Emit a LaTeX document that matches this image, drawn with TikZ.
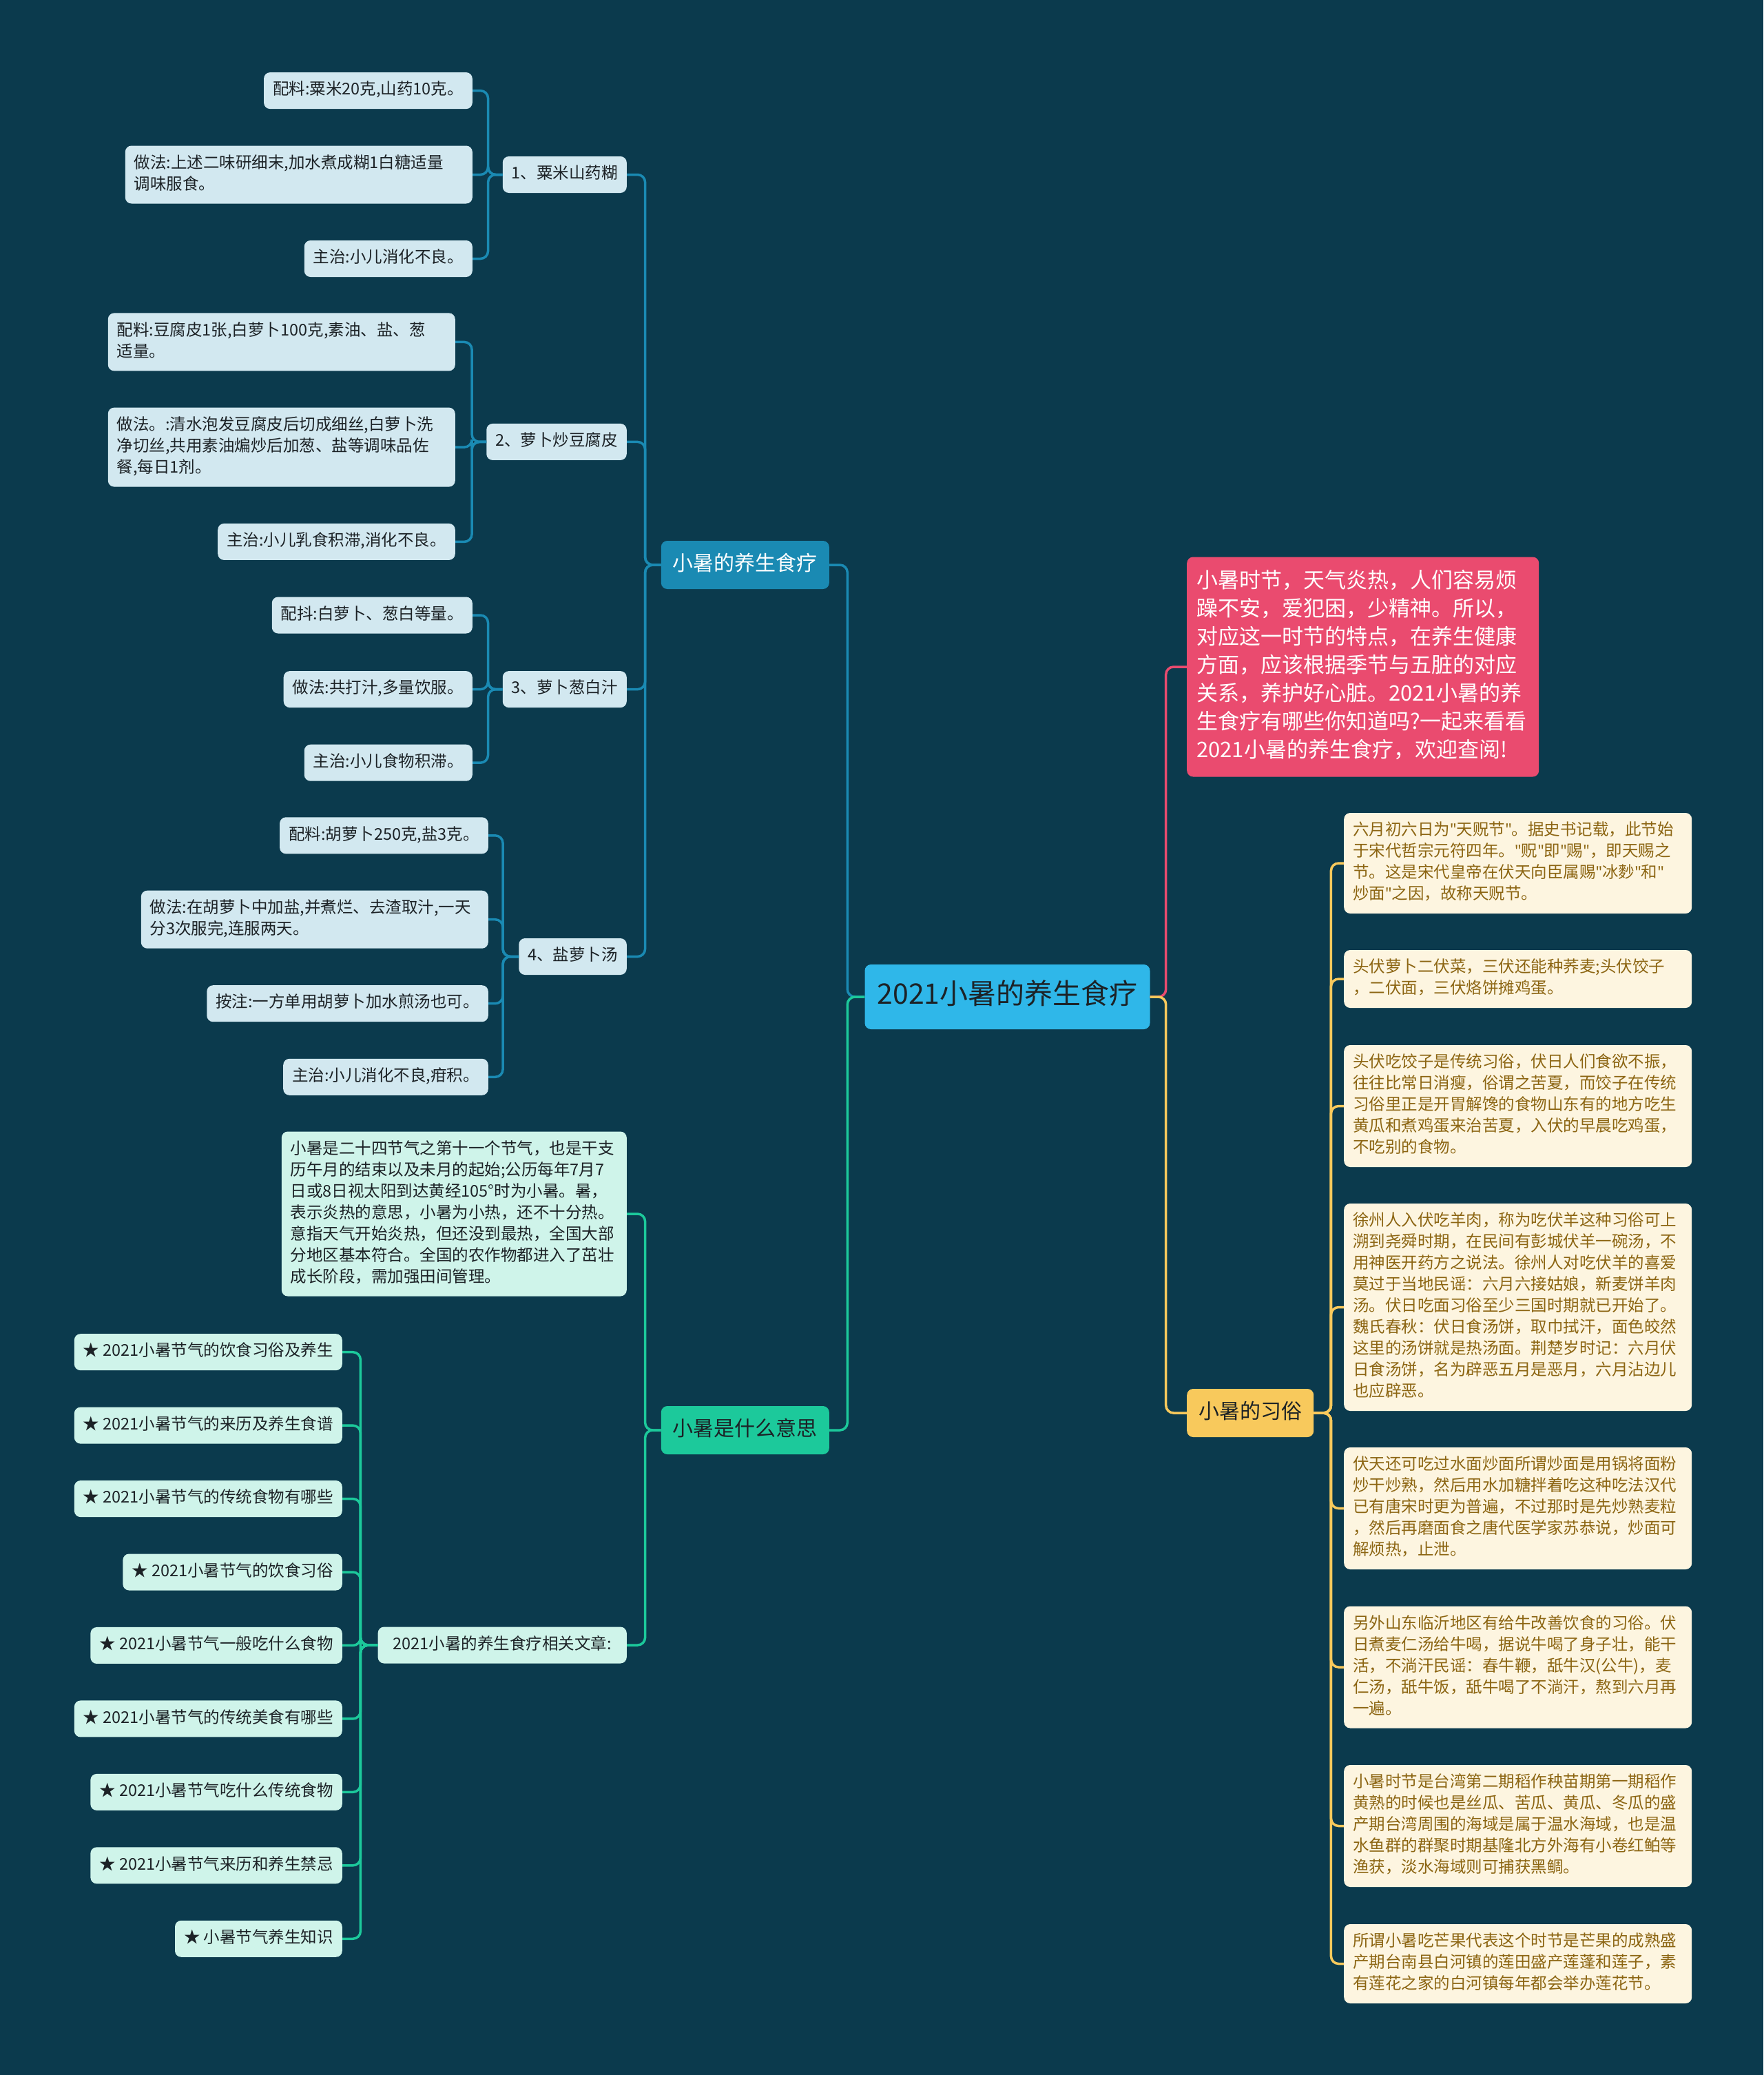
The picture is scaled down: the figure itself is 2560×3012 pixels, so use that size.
\documentclass[tikz,border=0pt]{standalone}
\usepackage{fontspec}
\setmainfont{Noto Sans CJK SC}
\newfontfamily\latinfont{Noto Sans}
\usepackage{xcolor}
\usepackage{tikz}

\definecolor{bgc}{HTML}{0B3A4D}
\definecolor{rootc}{HTML}{2FB7E9}
\definecolor{bluec}{HTML}{1A8AB3}
\definecolor{greenc}{HTML}{1CC99B}
\definecolor{redc}{HTML}{EA4B6F}
\definecolor{yelc}{HTML}{F8C95C}
\definecolor{bleafc}{HTML}{D2E8F0}
\definecolor{gleafc}{HTML}{CFF4EA}
\definecolor{yleafc}{HTML}{FDF5E0}
\definecolor{ytxt}{HTML}{8C6512}
\definecolor{darktxt}{HTML}{1C2226}

\newcommand{\leaffont}{\fontsize{23.5}{31}\selectfont}
\newcommand{\topicfont}{\fontsize{30}{40}\selectfont}
\newcommand{\rootfont}{\fontsize{41}{50}\selectfont}
\newcommand{\introfont}{\fontsize{31}{41}\selectfont}
\newcommand{\qm}{{\latinfont\char"22}} % narrow straight quote

\tikzset{
  leaf/.style={rounded corners=9pt, inner xsep=13pt, inner ysep=11pt, align=left,
    font=\leaffont, text=darktxt, execute at begin node=\strut, execute at end node=\strut},
  bleaf/.style={leaf, fill=bleafc, anchor=east},
  gleaf/.style={leaf, fill=gleafc, anchor=east},
  yleaf/.style={leaf, fill=yleafc, text=ytxt, text width=479pt, anchor=west},
  wide/.style={text width=478pt},
  topic/.style={rounded corners=9pt, inner xsep=17pt, inner ysep=15pt, font=\topicfont,
    text=darktxt, execute at begin node=\strut},
  bline/.style={draw=bluec, line width=3.5pt, rounded corners=11pt},
  gline/.style={draw=greenc, line width=3.5pt, rounded corners=11pt},
  rline/.style={draw=redc, line width=3.5pt, rounded corners=11pt},
  yline/.style={draw=yelc, line width=3.5pt, rounded corners=11pt}
}

\begin{document}
\begin{tikzpicture}[x=1pt,y=-1pt]
\useasboundingbox (0,0) rectangle (2560,3012);
\fill[bgc] (0,0) rectangle (2560,3012);

% centre and main topics
\node[topic, fill=rootc, font=\rootfont, inner xsep=18pt, inner ysep=22pt] (root) at (1462.5,1447) {2021小暑的养生食疗};
\node[topic, fill=bluec, text=white, anchor=east] (b1) at (1204,820) {小暑的养生食疗};
\node[topic, fill=greenc, anchor=east] (b2) at (1204,2076) {小暑是什么意思};
\node[topic, fill=redc, text=white, font=\introfont, align=left, text width=483pt, inner xsep=14pt,
  inner ysep=16pt, anchor=west, execute at end node=\strut] (intro) at (1723,968)
  {小暑时节，天气炎热，人们容易烦\\躁不安，爱犯困，少精神。所以，\\对应这一时节的特点，在养生健康\\方面，应该根据季节与五脏的对应\\关系，养护好心脏。2021小暑的养\\生食疗有哪些你知道吗?一起来看看\\2021小暑的养生食疗，欢迎查阅!};
\node[topic, fill=yelc, anchor=west] (xs) at (1723,2051) {小暑的习俗};

\draw[bline] (root.west) -- ++(-25,0) |- (b1.east);
\draw[gline] (root.west) -- ++(-25,0) |- (b2.east);
\draw[rline] (root.east) -- ++(23,0) |- (intro.west);
\draw[yline] (root.east) -- ++(23,0) |- (xs.west);

% recipes
\node[bleaf] (s1) at (910,253.5) {1、粟米山药糊};
\node[bleaf] (s2) at (910,641.4) {2、萝卜炒豆腐皮};
\node[bleaf] (s3) at (910,1000.6) {3、萝卜葱白汁};
\node[bleaf] (s4) at (910,1388.5) {4、盐萝卜汤};
\foreach \s in {s1,s2,s3,s4}
\draw[bline] (b1.west) -- ++(-23,0) |- (\s.east);

\node[bleaf] (s1a) at (686,131.6) {配料:粟米20克,山药10克。};
\node[bleaf, wide] (s1b) at (686,253.5) {做法:上述二味研细末,加水煮成糊1白糖适量\\调味服食。};
\node[bleaf] (s1c) at (686,375.5) {主治:小儿消化不良。};
\foreach \c in {s1a,s1b,s1c}
\draw[bline] (s1.west) -- ++(-21,0) |- (\c.east);

\node[bleaf, wide] (s2a) at (661,496.4) {配料:豆腐皮1张,白萝卜100克,素油、盐、葱\\适量。};
\node[bleaf, wide] (s2b) at (661,649.1) {做法。:清水泡发豆腐皮后切成细丝,白萝卜洗\\净切丝,共用素油煸炒后加葱、盐等调味品佐\\餐,每日1剂。};
\node[bleaf] (s2c) at (661,786.4) {主治:小儿乳食积滞,消化不良。};
\foreach \c in {s2a,s2b,s2c}
\draw[bline] (s2.west) -- ++(-21,0) |- (\c.east);

\node[bleaf] (s3a) at (686,893) {配抖:白萝卜、葱白等量。};
\node[bleaf] (s3b) at (686,1000.6) {做法:共打汁,多量饮服。};
\node[bleaf] (s3c) at (686,1107.2) {主治:小儿食物积滞。};
\foreach \c in {s3a,s3b,s3c}
\draw[bline] (s3.west) -- ++(-21,0) |- (\c.east);

\node[bleaf] (s4a) at (709,1212.8) {配料:胡萝卜250克,盐3克。};
\node[bleaf, wide] (s4b) at (709,1334.7) {做法:在胡萝卜中加盐,并煮烂、去渣取汁,一天\\分3次服完,连服两天。};
\node[bleaf] (s4c) at (709,1456.7) {按注:一方单用胡萝卜加水煎汤也可。};
\node[bleaf] (s4d) at (709,1563.3) {主治:小儿消化不良,疳积。};
\foreach \c in {s4a,s4b,s4c,s4d}
\draw[bline] (s4.west) -- ++(-23,0) |- (\c.east);

% meaning and related articles
\node[gleaf, text width=475pt] (mean) at (910,1762) {小暑是二十四节气之第十一个节气，也是干支\\历午月的结束以及未月的起始;公历每年7月7\\日或8日视太阳到达黄经105°时为小暑。暑，\\表示炎热的意思，小暑为小热，还不十分热。\\意指天气开始炎热，但还没到最热，全国大部\\分地区基本符合。全国的农作物都进入了茁壮\\成长阶段，需加强田间管理。};
\node[gleaf, inner xsep=22pt] (rel) at (910,2388) {2021小暑的养生食疗相关文章:};
\draw[gline] (b2.west) -- ++(-23,0) |- (mean.east);
\draw[gline] (b2.west) -- ++(-23,0) |- (rel.east);

\foreach \t [count=\i] in {2021小暑节气的饮食习俗及养生, 2021小暑节气的来历及养生食谱,
  2021小暑节气的传统食物有哪些, 2021小暑节气的饮食习俗, 2021小暑节气一般吃什么食物,
  2021小暑节气的传统美食有哪些, 2021小暑节气吃什么传统食物, 2021小暑节气来历和养生禁忌,
  小暑节气养生知识}
{
\node[gleaf] (st\i) at (497,{1856.2+106.45*\i}) {★ \t};
\draw[gline] (rel.west) -- ++(-25,0) |- (st\i.east);
}

% customs
\node[yleaf] (y1) at (1951,1253) {六月初六日为\qm 天贶节\qm 。据史书记载，此节始\\于宋代哲宗元符四年。\qm 贶\qm 即\qm 赐\qm ，即天赐之\\节。这是宋代皇帝在伏天向臣属赐\qm 冰麨\qm 和\qm\\炒面\qm 之因，故称天贶节。};
\node[yleaf] (y2) at (1951,1421) {头伏萝卜二伏菜，三伏还能种荞麦;头伏饺子\\，二伏面，三伏烙饼摊鸡蛋。};
\node[yleaf] (y3) at (1951,1605.5) {头伏吃饺子是传统习俗，伏日人们食欲不振，\\往往比常日消瘦，俗谓之苦夏，而饺子在传统\\习俗里正是开胃解馋的食物山东有的地方吃生\\黄瓜和煮鸡蛋来治苦夏，入伏的早晨吃鸡蛋，\\不吃别的食物。};
\node[yleaf] (y4) at (1951,1897.5) {徐州人入伏吃羊肉，称为吃伏羊这种习俗可上\\溯到尧舜时期，在民间有彭城伏羊一碗汤，不\\用神医开药方之说法。徐州人对吃伏羊的喜爱\\莫过于当地民谣：六月六接姑娘，新麦饼羊肉\\汤。伏日吃面习俗至少三国时期就已开始了。\\魏氏春秋：伏日食汤饼，取巾拭汗，面色皎然\\这里的汤饼就是热汤面。荆楚岁时记：六月伏\\日食汤饼，名为辟恶五月是恶月，六月沾边儿\\也应辟恶。};
\node[yleaf] (y5) at (1951,2189.5) {伏天还可吃过水面炒面所谓炒面是用锅将面粉\\炒干炒熟，然后用水加糖拌着吃这种吃法汉代\\已有唐宋时更为普遍，不过那时是先炒熟麦粒\\，然后再磨面食之唐代医学家苏恭说，炒面可\\解烦热，止泄。};
\node[yleaf] (y6) at (1951,2420) {另外山东临沂地区有给牛改善饮食的习俗。伏\\日煮麦仁汤给牛喝，据说牛喝了身子壮，能干\\活，不淌汗民谣：春牛鞭，舐牛汉(公牛)，麦\\仁汤，舐牛饭，舐牛喝了不淌汗，熬到六月再\\一遍。};
\node[yleaf] (y7) at (1951,2650.5) {小暑时节是台湾第二期稻作秧苗期第一期稻作\\黄熟的时候也是丝瓜、苦瓜、黄瓜、冬瓜的盛\\产期台湾周围的海域是属于温水海域，也是温\\水鱼群的群聚时期基隆北方外海有小卷红鲌等\\渔获，淡水海域则可捕获黑鲷。};
\node[yleaf] (y8) at (1951,2850.5) {所谓小暑吃芒果代表这个时节是芒果的成熟盛\\产期台南县白河镇的莲田盛产莲蓬和莲子，素\\有莲花之家的白河镇每年都会举办莲花节。};
\foreach \y in {y1,y2,y3,y4,y5,y6,y7,y8}
\draw[yline] (xs.east) -- ++(25,0) |- (\y.west);
\end{tikzpicture}
\end{document}
